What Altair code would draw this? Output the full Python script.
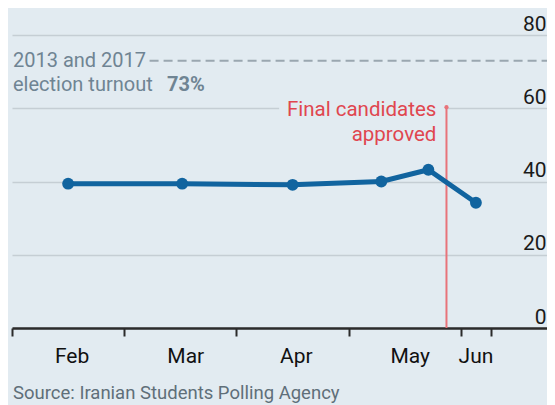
import calendar
import altair as alt
import pandas as pd

# ---- data ----
months = ["Feb", "Mar", "Apr", "May", "Jun"]
month_label_dates = ["2021-02-16", "2021-03-18", "2021-04-17", "2021-05-18", "2021-06-05"]
tick_dates = ["2021-02-01", "2021-03-01", "2021-04-01", "2021-05-01", "2021-06-01", "2021-06-09"]
poll_dates = ["2021-02-15", "2021-03-17", "2021-04-16", "2021-05-10", "2021-05-23", "2021-06-05"]
turnout = [39.4, 39.4, 39.1, 40.0, 43.2, 34.2]
past_turnout = 73
approval_date = "2021-05-28"
approval_top = 60.3
axis_start = "2021-02-01"
axis_end = "2021-06-24"
dash_start = "2021-03-08"
y_ticks = [0, 20, 40, 60, 80]

BG = "#e2ebf1"
BLUE = "#11649f"
RED = "#e0464f"
GREY_TXT = "#6f8493"
FONT = "Roboto"


def mpos(d):
    ts = pd.Timestamp(d)
    return (ts.month - 2) + (ts.day - 1) / calendar.monthrange(ts.year, ts.month)[1]


W, H = 535, 293

poll_df = pd.DataFrame({"m": [mpos(d) for d in poll_dates], "v": turnout})
label_df = pd.DataFrame({"m": [mpos(d) for d in month_label_dates], "label": months})
approval_df = pd.DataFrame({"m": [mpos(approval_date)], "v": [approval_top], "v0": [0]})
dash_df = pd.DataFrame({"m": [mpos(dash_start)], "m2": [mpos(axis_end)], "v": [past_turnout]})
halo_df = pd.DataFrame({"m": [2.38], "m2": [mpos(approval_date) - 0.01], "v": [59.2], "v2": [60.8]})

xscale = alt.Scale(domain=[mpos(axis_start), mpos(axis_end)], nice=False, zero=False)
yscale = alt.Scale(domain=[0, 80], nice=False)

x_axis = alt.Axis(
    values=[mpos(d) for d in tick_dates],
    labels=False,
    title=None,
    grid=False,
    domainColor="#2b2b2b",
    domainWidth=2.5,
    tickColor="#2b2b2b",
    tickWidth=2,
    tickSize=8,
)
y_axis = alt.Axis(
    orient="right",
    values=y_ticks,
    title=None,
    grid=True,
    gridColor="#c5ced4",
    gridWidth=1.5,
    domain=False,
    ticks=False,
    labelAlign="right",
    labelBaseline="alphabetic",
    labelPadding=-1,
    labelOffset=-5,
    labelFontSize=21,
    labelFont=FONT,
    labelColor="#1a1a1a",
)

halo = alt.Chart(halo_df).mark_rect(color=BG).encode(
    x=alt.X("m:Q", scale=xscale, axis=x_axis),
    x2="m2",
    y=alt.Y("v:Q", scale=yscale, axis=y_axis),
    y2="v2",
)

dash = alt.Chart(dash_df).mark_rule(color="#9aa7b0", strokeWidth=2, strokeDash=[9, 5]).encode(
    x=alt.X("m:Q", scale=xscale), x2="m2", y=alt.Y("v:Q", scale=yscale)
)

red_rule = alt.Chart(approval_df).mark_rule(color="#e8737a", strokeWidth=2).encode(
    x=alt.X("m:Q", scale=xscale), y=alt.Y("v:Q", scale=yscale), y2="v0"
)
red_dot = alt.Chart(approval_df).mark_point(filled=True, color="#e8737a", size=18, opacity=1).encode(
    x=alt.X("m:Q", scale=xscale), y=alt.Y("v:Q", scale=yscale)
)

line = alt.Chart(poll_df).mark_line(color=BLUE, strokeWidth=5).encode(
    x=alt.X("m:Q", scale=xscale), y=alt.Y("v:Q", scale=yscale)
)
points = alt.Chart(poll_df).mark_point(filled=True, color=BLUE, size=140, opacity=1).encode(
    x=alt.X("m:Q", scale=xscale), y=alt.Y("v:Q", scale=yscale)
)

month_labels = alt.Chart(label_df).mark_text(
    font=FONT, fontSize=21, color="#111111", baseline="middle", align="center"
).encode(x=alt.X("m:Q", scale=xscale), y=alt.value(H + 29), text="label:N")

ann1 = alt.Chart(pd.DataFrame({"t": ["2013 and 2017"], "v": [past_turnout]})).mark_text(
    font=FONT, fontSize=20, color=GREY_TXT, baseline="middle", align="left"
).encode(x=alt.value(1), y=alt.Y("v:Q", scale=yscale), text="t:N")
ann2 = alt.Chart(pd.DataFrame({"t": ["election turnout"], "v": [66.3]})).mark_text(
    font=FONT, fontSize=20, color=GREY_TXT, baseline="middle", align="left"
).encode(x=alt.value(1), y=alt.Y("v:Q", scale=yscale), text="t:N")
ann3 = alt.Chart(pd.DataFrame({"t": [f"{past_turnout}%"], "v": [66.3]})).mark_text(
    font=FONT, fontSize=20, color=GREY_TXT, fontWeight="bold", baseline="middle", align="left"
).encode(x=alt.value(155), y=alt.Y("v:Q", scale=yscale), text="t:N")

red1 = alt.Chart(pd.DataFrame({"t": ["Final candidates"], "v": [59.5], "m": [mpos(approval_date) - 0.09]})).mark_text(
    font=FONT, fontSize=20.5, color=RED, baseline="middle", align="right"
).encode(x=alt.X("m:Q", scale=xscale), y=alt.Y("v:Q", scale=yscale), text="t:N")
red2 = alt.Chart(pd.DataFrame({"t": ["approved"], "v": [52.7], "m": [mpos(approval_date) - 0.09]})).mark_text(
    font=FONT, fontSize=20.5, color=RED, baseline="middle", align="right"
).encode(x=alt.X("m:Q", scale=xscale), y=alt.Y("v:Q", scale=yscale), text="t:N")

source = alt.Chart(pd.DataFrame({"t": ["Source: Iranian Students Polling Agency"]})).mark_text(
    font=FONT, fontSize=18.5, color="#5f6f79", baseline="alphabetic", align="left"
).encode(x=alt.value(1), y=alt.value(H + 71), text="t:N")

chart = (
    alt.layer(halo, dash, red_rule, red_dot, line, points, month_labels, ann1, ann2, ann3, red1, red2, source)
    .properties(
        width=W,
        height=H,
        autosize="none",
        padding={"left": 4, "top": 27, "right": 0, "bottom": 77},
        background=BG,
    )
    .configure_view(stroke=None)
)

chart.save("out.html", embed_options={"renderer": "svg", "actions": False})
